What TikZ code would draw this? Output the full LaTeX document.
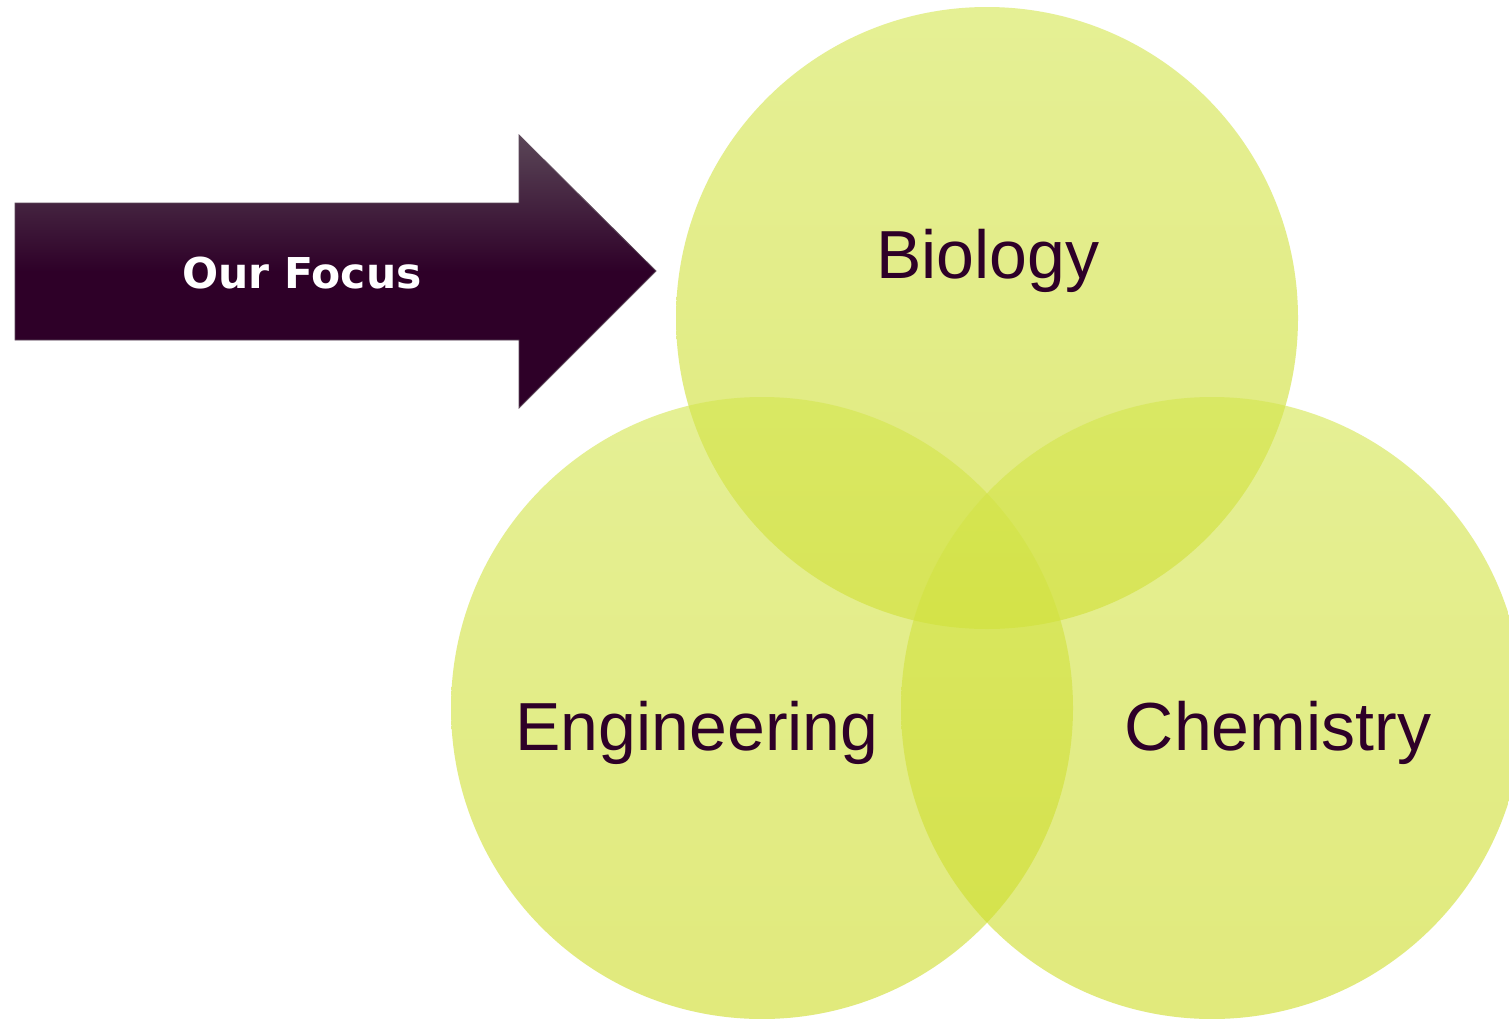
\documentclass[tikz,border=0pt]{standalone}
\usepackage{fontspec}
\setmainfont{Liberation Sans}
\newfontfamily\focusfont{DejaVu Sans}
\definecolor{plum}{HTML}{2E0028}
\definecolor{plumtop}{HTML}{5A4657}
\definecolor{plumline}{HTML}{5E4A5B}
\definecolor{limetop}{HTML}{D4E64E}
\definecolor{limebot}{HTML}{CDDC25}
\tikzset{
  venn/.style={circle, minimum size=622pt, inner sep=0pt, top color=limetop, bottom color=limebot, opacity=0.6, draw=none},
  vlabel/.style={font=\fontsize{68}{68}\selectfont, text=plum, anchor=base, inner sep=0pt},
  focusarrow/.style={top color=plumtop, bottom color=plum, middle color=plum, draw=plumline, line width=0.8pt},
}
\begin{document}
\begin{tikzpicture}[x=1pt,y=-1pt]
\useasboundingbox (0,0) rectangle (1509,1018);
\clip (0,0) rectangle (1509,1018);
\fill[white] (0,0) rectangle (1509,1018);
% arrow
\path[focusarrow] (15,203) -- (519,203) -- (519,135) -- (656,271) -- (519,408) -- (519,340) -- (15,340) -- cycle;
\node[text=white, anchor=base, inner sep=0pt, font=\focusfont\bfseries\fontsize{42.5}{42.5}\selectfont] (focus) at (302,288) {Our Focus};
% circles
\node[venn] (bio) at (987,318) {};
\node[venn] (eng) at (762,708) {};
\node[venn] (chem) at (1212,708) {};
% labels
\node[vlabel] (biot) at (988,278) {Biology};
\node[vlabel] (engt) at (697,750) {Engineering};
\node[vlabel] (chemt) at (1278,750) {Chemistry};
\end{tikzpicture}
\end{document}
